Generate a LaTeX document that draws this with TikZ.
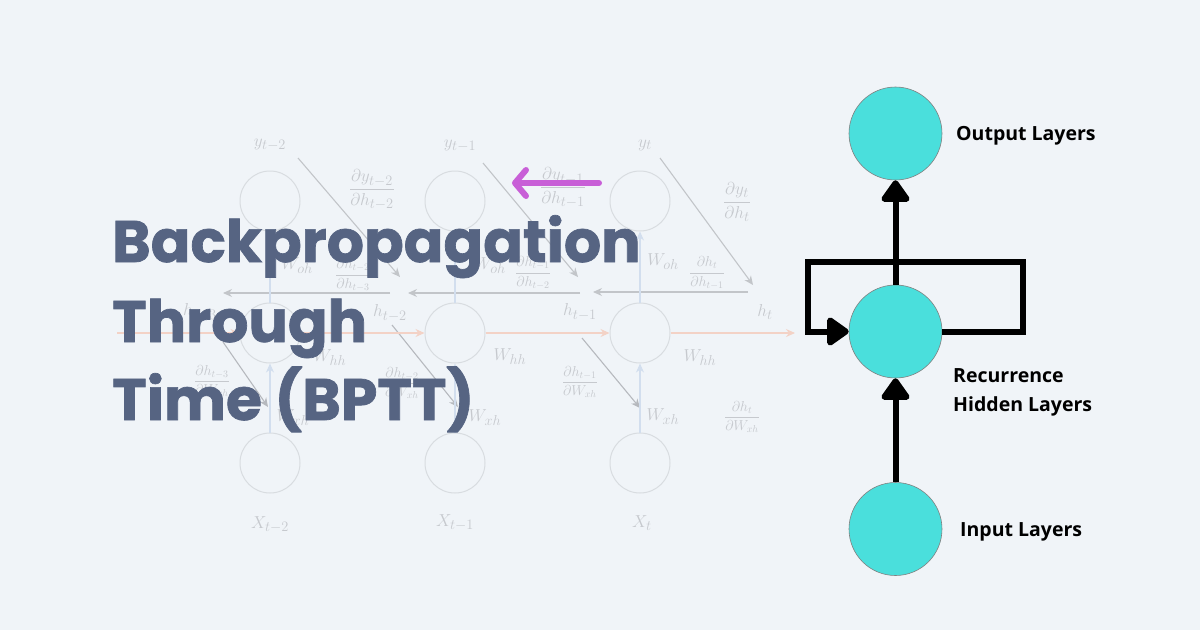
\documentclass[tikz,border=0pt]{standalone}
\usepackage{fontspec}
\usetikzlibrary{arrows.meta}
\newfontfamily\titlefont{Poppins}[BoldFeatures={FakeBold=1.2}]
\newfontfamily\labelfont{Open Sans}
\definecolor{bgc}{RGB}{240,244,248}
\definecolor{titlec}{RGB}{86,100,130}
\definecolor{cyanc}{RGB}{74,223,220}
\definecolor{magc}{RGB}{200,95,215}
\definecolor{fcirc}{RGB}{216,220,224}
\definecolor{ftext}{RGB}{198,201,206}
\definecolor{farrow}{RGB}{194,197,201}
\definecolor{fdark}{RGB}{182,185,190}
\definecolor{forange}{RGB}{243,210,198}
\definecolor{fblue}{RGB}{210,222,238}
\begin{document}
\begin{tikzpicture}[x=1pt,y=-1pt,
  faintcirc/.style={circle, draw=fcirc, line width=1pt, minimum size=60pt, inner sep=0pt},
  flabel/.style={text=ftext, font=\fontsize{19}{22}\selectfont, inner sep=0pt},
  fsmall/.style={text=ftext, font=\fontsize{14}{16}\selectfont, inner sep=0pt},
  grayarrow/.style={draw=farrow, line width=1.1pt, -{Stealth[length=9pt,width=8pt]}},
  darkarrow/.style={draw=fdark, line width=1.1pt, -{Stealth[length=9pt,width=8pt]}},
  orangearrow/.style={draw=forange, line width=1.1pt, -{Stealth[length=9pt,width=8pt]}},
  bluearrow/.style={draw=fblue, line width=1.1pt, -{Stealth[length=9pt,width=8pt]}},
  cyancirc/.style={circle, fill=cyanc, draw=black!50, line width=0.6pt, minimum size=93pt, inner sep=0pt},
  blackarrow/.style={draw=black, line width=6pt, -{Triangle[length=24pt,width=32pt,round]}},
  layerlabel/.style={font=\labelfont\bfseries\fontsize{19.5}{29}\selectfont, anchor=west, align=left, inner sep=0pt},
  titletext/.style={font=\titlefont\bfseries\fontsize{58.5}{60}\selectfont, text=titlec, anchor=base west, inner sep=0pt},
  magarrow/.style={draw=magc, line width=6pt, line cap=round, -{Straight Barb[length=11pt,width=26pt,round]}}
]
\useasboundingbox (0,0) rectangle (1200,630);
\fill[bgc] (0,0) rectangle (1200,630);

% ---------- faint unrolled RNN ----------
\foreach \i/\cx in {1/270,2/455,3/640}{
  \node[faintcirc] (yc\i) at (\cx,201) {};
  \node[faintcirc] (hc\i) at (\cx,333) {};
  \node[faintcirc] (xc\i) at (\cx,463) {};
}
% labels
\node[flabel] (ly1) at (270,145) {$y_{t-2}$};
\node[flabel] (ly2) at (460,146) {$y_{t-1}$};
\node[flabel] (ly3) at (645,145) {$y_t$};
\node[flabel] (lx1) at (270,525) {$X_{t-2}$};
\node[flabel] (lx2) at (455,523) {$X_{t-1}$};
\node[flabel] (lx3) at (642,523) {$X_t$};
\node[flabel] (lh0) at (200,312) {$h_{t-3}$};
\node[flabel] (lh1) at (390,313) {$h_{t-2}$};
\node[flabel] (lh2) at (580,312) {$h_{t-1}$};
\node[flabel] (lh3) at (765,312) {$h_t$};
\node[flabel] (lwo1) at (297,266) {$W_{oh}$};
\node[flabel] (lwo2) at (490,266) {$W_{oh}$};
\node[flabel] (lwo3) at (663,262) {$W_{oh}$};
\node[flabel] (lwh1) at (330,358) {$W_{hh}$};
\node[flabel] (lwh2) at (510,357) {$W_{hh}$};
\node[flabel] (lwh3) at (700,358) {$W_{hh}$};
\node[flabel] (lwx1) at (293,418) {$W_{xh}$};
\node[flabel] (lwx2) at (485,418) {$W_{xh}$};
\node[flabel] (lwx3) at (663,417) {$W_{xh}$};
\node[flabel] (fy1) at (372,190) {$\displaystyle\frac{\partial y_{t-2}}{\partial h_{t-2}}$};
\node[flabel] (fy2) at (563,188) {$\displaystyle\frac{\partial y_{t-1}}{\partial h_{t-1}}$};
\node[flabel] (fy3) at (737,202) {$\displaystyle\frac{\partial y_{t}}{\partial h_{t}}$};
\node[fsmall] (fh1) at (353,275) {$\displaystyle\frac{\partial h_{t-2}}{\partial h_{t-3}}$};
\node[fsmall] (fh2) at (533,273) {$\displaystyle\frac{\partial h_{t-1}}{\partial h_{t-2}}$};
\node[fsmall] (fh3) at (707,273) {$\displaystyle\frac{\partial h_{t}}{\partial h_{t-1}}$};
\node[fsmall] (fw1) at (212,381) {$\displaystyle\frac{\partial h_{t-3}}{\partial W_{xh}}$};
\node[fsmall] (fw2) at (402,383) {$\displaystyle\frac{\partial h_{t-2}}{\partial W_{xh}}$};
\node[fsmall] (fw3) at (580,382) {$\displaystyle\frac{\partial h_{t-1}}{\partial W_{xh}}$};
\node[fsmall] (fw4) at (742,417) {$\displaystyle\frac{\partial h_{t}}{\partial W_{xh}}$};

% free ends
\coordinate (dy1s) at (298,158); \coordinate (dy1e) at (400,277);
\coordinate (dy2s) at (483,163); \coordinate (dy2e) at (578,277);
\coordinate (dy3s) at (660,158); \coordinate (dy3e) at (753,285);
\coordinate (b1s) at (390,293); \coordinate (b1e) at (223,293);
\coordinate (b2s) at (580,293); \coordinate (b2e) at (408,293);
\coordinate (b3s) at (748,292); \coordinate (b3e) at (593,292);
\coordinate (os) at (117,333); \coordinate (oe) at (795,333);
\coordinate (dh1s) at (223,342); \coordinate (dh1e) at (268,407);
\coordinate (dh2s) at (392,325); \coordinate (dh2e) at (458,407);
\coordinate (dh3s) at (582,338); \coordinate (dh3e) at (640,408);

\foreach \i in {1,2,3}{
  \draw[grayarrow] (dy\i s) -- (dy\i e);
  \draw[grayarrow] (b\i s) -- (b\i e);
  \draw[darkarrow] (dh\i s) -- (dh\i e);
  \draw[bluearrow] (hc\i.north) -- (yc\i.south);
  \draw[bluearrow] (xc\i.north) -- (hc\i.south);
}
\draw[orangearrow] (os) -- (hc1.west);
\draw[orangearrow] (hc1.east) -- (hc2.west);
\draw[orangearrow] (hc2.east) -- (hc3.west);
\draw[orangearrow] (hc3.east) -- (oe);

% magenta arrow
\coordinate (ms) at (599,183); \coordinate (me) at (512,183);
\draw[magarrow] (ms) -- (me);

% ---------- title ----------
\node[titletext] (t1) at (112,262) {Backpropagation};
\node[titletext] (t2) at (112,342) {Through};
\node[titletext] (t3) at (112,420) {Time (BPTT)};

% ---------- right diagram ----------
\node[cyancirc] (out) at (895.5,133.5) {};
\node[cyancirc] (hid) at (895.5,331.5) {};
\node[cyancirc] (inp) at (895.5,529) {};
\coordinate (lr) at (1023,262);
\coordinate (ll) at (808,262);
\draw[blackarrow] (hid.north) -- (out.south);
\draw[blackarrow] (inp.north) -- (hid.south);
\draw[blackarrow] (hid.east) -| (lr) -| (ll) |- (hid.west);

\node[layerlabel] (lo) at (956,136) {Output Layers};
\node[layerlabel] (lhid) at (953,392) {Recurrence\\Hidden Layers};
\node[layerlabel] (li) at (960,532) {Input Layers};
\end{tikzpicture}
\end{document}
